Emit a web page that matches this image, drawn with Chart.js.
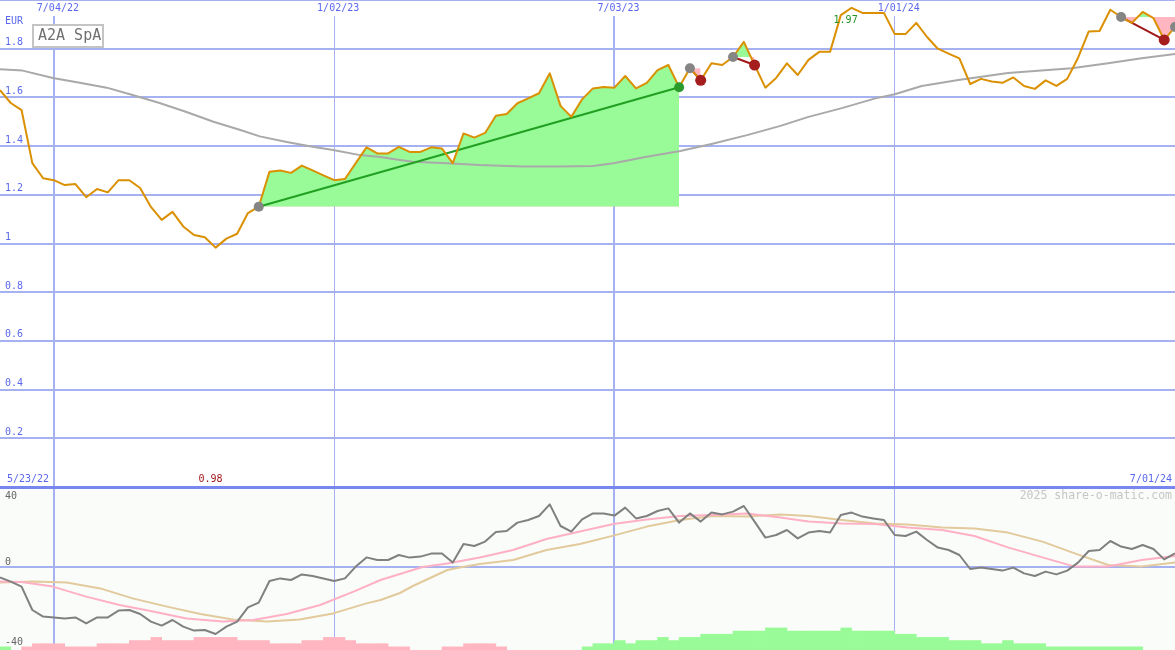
<!DOCTYPE html>
<html>
  <head>
    <meta charset="utf-8">
    <script src="https://cdn.jsdelivr.net/npm/chart.js"></script>
    <style>
      body { margin: 0; background: #fff; }
      #wrap { position: relative; width: 1175px; height: 650px; overflow: hidden; }
      canvas { position: absolute; left: 0; }
      #priceChart { top: 0; background: #fff; }
      #oscChart { top: 489px; background: #f9fcf9; }
    </style>
    <script>
      // weekly closes, week 0 = first visible week
      var title = 'A2A SpA'
      var currency = 'EUR'
      var credit = '2025 share-o-matic.com'
      var firstDate = '5/23/22'
      var lastDate = '7/01/24'
      var tickWeeks = [5, 31, 57, 83]
      var tickLabels = ['7/04/22', '1/02/23', '7/03/23', '1/01/24']
      var tickMajor = [true, false, true, false]
      var priceTicks = [0, 0.2, 0.4, 0.6, 0.8, 1, 1.2, 1.4, 1.6, 1.8, 2]
      var oscTicks = [40, 0, -40]

      var price = [
        1.63, 1.577, 1.548, 1.33, 1.268, 1.26, 1.24, 1.244, 1.19, 1.224,
        1.21, 1.26, 1.26, 1.228, 1.15, 1.097, 1.13, 1.07, 1.035, 1.026,
        0.983, 1.02, 1.04, 1.125, 1.151, 1.295, 1.3, 1.29, 1.32, 1.3,
        1.28, 1.26, 1.265, 1.33, 1.395, 1.37, 1.37, 1.397, 1.376, 1.376,
        1.395, 1.39, 1.33, 1.452, 1.435, 1.454, 1.525, 1.532, 1.576, 1.596,
        1.617, 1.699, 1.565, 1.52, 1.592, 1.637, 1.643, 1.64, 1.688, 1.637,
        1.66, 1.712, 1.733, 1.642, 1.72, 1.67, 1.74, 1.733, 1.766, 1.828,
        1.733, 1.64, 1.68, 1.74, 1.692, 1.754, 1.787, 1.787, 1.938, 1.968,
        1.947, 1.947, 1.947, 1.86, 1.86, 1.906, 1.848, 1.8, 1.78, 1.76,
        1.655, 1.676, 1.665, 1.66, 1.682, 1.647, 1.635, 1.67, 1.647, 1.676,
        1.762, 1.871, 1.873, 1.96, 1.93, 1.906, 1.951, 1.926, 1.836, 1.889
      ]
      var maWeeks = [0, 2.1, 4.9, 7.4, 9.9, 12.3, 14.8, 17.3, 19.8, 22.3, 24.1, 26.6, 29, 30.9, 33.4, 35.3, 37.1, 38.3, 41.5, 44.5,
        48.5, 51.7, 55, 56.9, 60, 63.1, 66.1, 69.3, 72.4, 75, 78.1, 81.2, 83, 85.5, 88.9, 93.5, 99.4, 102.8, 105.9, 109]
      var maValues = [1.716, 1.71, 1.68, 1.66, 1.64, 1.61, 1.577, 1.54, 1.5, 1.466, 1.44, 1.417, 1.397, 1.384, 1.363, 1.355, 1.343, 1.336, 1.33, 1.322,
        1.316, 1.316, 1.318, 1.33, 1.356, 1.38, 1.41, 1.445, 1.483, 1.52, 1.556, 1.596, 1.613, 1.647, 1.671, 1.7, 1.72, 1.74, 1.761, 1.778]

      // trade signals
      var buyWeeks = [24, 64, 68, 104, 109]
      var sellWeeks = [63, 65, 70, 108]
      var fillEnd = [63, 65, 70, 109]

      // lower panel
      var osc = [
        -5.2, -7.3, -9.8, -21.5, -24.8, -25.3, -25.7, -25.2, -28.2, -25.2,
        -25.2, -21.8, -21.5, -23.5, -27.3, -29.3, -26.5, -29.8, -31.8, -31.5,
        -33.5, -29.8, -27.3, -20.2, -17.8, -7, -5.7, -6.5, -3.7, -4.5,
        -5.7, -7, -5.7, 0.2, 4.8, 3.5, 3.5, 6, 4.7, 5.2,
        6.7, 6.7, 2.2, 11.5, 10.5, 12.7, 17.5, 18, 22.2, 23.5,
        25.5, 31.3, 20.5, 17.7, 23.8, 26.8, 26.8, 25.7, 29.7, 24.3,
        25.5, 28, 29.3, 22.2, 26.8, 22.7, 27.2, 26.3, 27.7, 30.5,
        22.7, 14.7, 16, 18.5, 14.3, 17.2, 18, 17.2, 26, 27.2,
        25.2, 24.3, 23.5, 16, 15.5, 17.7, 13.5, 9.7, 8.5, 6,
        -1, -0.2, -1, -1.8, -0.3, -3.2, -4.5, -2.3, -3.7, -1.8,
        2.2, 8, 8.5, 13, 10.2, 9, 11, 9, 3.8, 6.8
      ]
      var pinkWeeks = [0, 2, 4.9, 8, 11.1, 14.2, 17.3, 20.7, 23.5, 26.6, 29.7, 32.8, 35.3, 37.1, 38.3, 39.2, 41.5, 44.5, 47.6, 50.7,
        53.8, 56.9, 60, 63.1, 66.1, 69.3, 72.4, 75, 78.1, 81.2, 84.2, 87.4, 90.4, 93.5, 96.7, 99.7, 102.8, 105.9, 109]
      var pinkValues = [-7.3, -7.5, -9.8, -14.8, -19, -22.3, -25.7, -27.3, -26.5, -23.5, -19, -12.3, -6.5, -3.5, -1.5, 0, 1.8, 4.8, 8.5, 14,
        17.7, 21.5, 23.8, 25.5, 26, 26.8, 24.7, 22.7, 21.8, 21.5, 19.8, 18.5, 15.5, 9.8, 4.8, 0.2, 0.2, 3.5, 5.5]
      var tanWeeks = [0, 3.1, 6.2, 9.3, 12.3, 15.5, 18.6, 21.6, 24.8, 27.8, 30.9, 34, 35.3, 37.1, 38.3, 41.5, 42.9, 44.5, 47.6, 50.7,
        53.8, 56.9, 60, 63.1, 66.1, 69.3, 72.4, 75, 78.1, 81.2, 84.2, 87.4, 90.4, 93.5, 96.7, 99.7, 102.8, 105.9, 109]
      var tanValues = [-7.7, -7.3, -7.7, -10.7, -15.7, -19.8, -23.5, -26.2, -27.3, -26.2, -23.2, -18.2, -16.5, -13, -9.5, -1.5, 0, 1.5, 3.5, 8.5,
        11.5, 15.7, 20.2, 23.5, 25.5, 25.2, 26.3, 25.5, 23.5, 21.8, 21.3, 19.8, 19.3, 17.2, 12.7, 6.8, 1, 0.2, 2.3]
      var negBars = [
        0, 0, 1, 2, 2, 2, 1, 1, 1, 2, 2, 2, 3, 3, 4, 3, 3, 3, 4, 4,
        4, 4, 3, 3, 3, 2, 2, 2, 3, 3, 4, 4, 3, 2, 2, 2, 1, 1, 0, 0,
        0, 1, 1, 2, 2, 2, 1, 0, 0, 0, 0, 0, 0, 0, 0, 0, 0, 0, 0, 0,
        0, 0, 0, 0, 0, 0, 0, 0, 0, 0, 0, 0, 0, 0, 0, 0, 0, 0, 0, 0,
        0, 0, 0, 0, 0, 0, 0, 0, 0, 0, 0, 0, 0, 0, 0, 0, 0, 0, 0, 0,
        0, 0, 0, 0, 0, 0, 0, 0, 0, 0
      ]
      var posBars = [
        1, 0, 0, 0, 0, 0, 0, 0, 0, 0, 0, 0, 0, 0, 0, 0, 0, 0, 0, 0,
        0, 0, 0, 0, 0, 0, 0, 0, 0, 0, 0, 0, 0, 0, 0, 0, 0, 0, 0, 0,
        0, 0, 0, 0, 0, 0, 0, 0, 0, 0, 0, 0, 0, 0, 1, 2, 2, 3, 2, 3,
        3, 4, 3, 4, 4, 5, 5, 5, 6, 6, 6, 7, 7, 6, 6, 6, 6, 6, 7, 6,
        6, 6, 6, 5, 5, 4, 4, 4, 3, 3, 3, 2, 2, 3, 2, 2, 2, 1, 1, 1,
        1, 1, 1, 1, 1, 1, 0, 0, 0, 0
      ]

      var blue = '#5a68ee'
      var gridBlue = '#a6b1f1'
      var darkBlue = '#7886ef'
      var monoFont = '"DejaVu Sans Mono", "Liberation Mono", monospace'
      var labelFont = '10px ' + monoFont
      var green = '#98fb98'
      var pink = '#ffb6c1'
      var priceChart, oscChart

      function pts(xs, ys) {
        return xs.map(function (x, i) { return { x: x, y: ys[i] } })
      }
      function weekPts(ys) {
        return ys.map(function (y, i) { return { x: i, y: y } })
      }
      function xAxis() {
        return {
          type: 'linear', min: 0, max: 109, offset: false,
          afterBuildTicks: function (s) { s.ticks = tickWeeks.map(function (v) { return { value: v } }) },
          afterFit: function (s) { s.height = 0 },
          ticks: { display: false },
          grid: {
            color: gridBlue, drawTicks: false, offset: false,
            lineWidth: function (c) { return tickMajor[tickWeeks.indexOf(c.tick.value)] ? 2 : 1 },
          },
          border: { display: false },
        }
      }

      var priceText = {
        id: 'priceText',
        beforeDatasetsDraw: function (chart) {
          var ctx = chart.ctx, x = chart.scales.x
          ctx.save()
          ctx.font = labelFont
          ctx.textBaseline = 'middle'
          ctx.textAlign = 'center'
          tickWeeks.forEach(function (w, i) {
            var px = x.getPixelForValue(w)
            ctx.fillStyle = '#ffffff'
            ctx.fillRect(px - 2, 1.5, 4, 14.5)
            ctx.fillStyle = blue
            ctx.fillText(tickLabels[i], px + 4, 8)
          })
          ctx.restore()
        },
        afterDraw: function (chart) {
          var ctx = chart.ctx, x = chart.scales.x, y = chart.scales.y
          var hi = price.indexOf(Math.max.apply(null, price))
          var lo = price.indexOf(Math.min.apply(null, price))
          var base = y.getPixelForValue(0)
          ctx.save()
          ctx.font = labelFont
          ctx.textBaseline = 'middle'
          ctx.fillStyle = blue
          ctx.textAlign = 'left'
          ctx.fillText(currency, 5, 21)
          ctx.fillText(firstDate, 7, base - 8)
          ctx.textAlign = 'right'
          ctx.fillText(lastDate, chart.chartArea.right - 3, base - 8)
          ctx.textAlign = 'center'
          ctx.fillStyle = '#229022'
          ctx.fillText(price[hi].toFixed(2), x.getPixelForValue(hi) - 6, y.getPixelForValue(price[hi]) + 13)
          ctx.fillStyle = '#a01818'
          ctx.fillText(price[lo].toFixed(2), x.getPixelForValue(lo) - 5, base - 8)
          // name box
          ctx.fillStyle = '#ffffff'
          ctx.fillRect(33, 25, 70, 22)
          ctx.strokeStyle = '#c4c4c4'
          ctx.lineWidth = 2
          ctx.strokeRect(33, 25, 70, 22)
          ctx.fillStyle = '#707070'
          ctx.font = '15px ' + monoFont
          ctx.textAlign = 'left'
          ctx.fillText(title, 38, 36.5)
          ctx.restore()
        },
      }

      var oscText = {
        id: 'oscText',
        afterDraw: function (chart) {
          var ctx = chart.ctx, y = chart.scales.y
          ctx.save()
          ctx.font = labelFont
          ctx.textBaseline = 'middle'
          ctx.textAlign = 'left'
          ctx.fillStyle = '#666666'
          oscTicks.forEach(function (v) {
            ctx.fillText(String(v), 5, Math.max(y.getPixelForValue(v) - 5, 7))
          })
          ctx.textAlign = 'right'
          ctx.fillStyle = '#c6c6c6'
          ctx.font = '11.5px ' + monoFont
          ctx.fillText(credit, chart.chartArea.right - 3, 7)
          ctx.restore()
        },
      }

      function init() {
        Chart.defaults.font.family = monoFont
        var sets = []
        // buy / sell dots
        var dots = [], dotCols = [], dotR = []
        buyWeeks.forEach(function (w) {
          dots.push({ x: w, y: price[w] }); dotCols.push('#858585'); dotR.push(5)
        })
        sellWeeks.forEach(function (w, i) {
          var win = price[w] > price[buyWeeks[i]]
          dots.push({ x: w, y: price[w] }); dotCols.push(win ? '#2a9a2a' : '#a51d1d'); dotR.push(win ? 5 : 5.5)
        })
        sets.push({ data: dots, showLine: false, pointRadius: dotR, pointBackgroundColor: dotCols, pointBorderWidth: 0, order: 0 })
        sets.push({ data: weekPts(price), borderColor: '#da9000', borderWidth: 2, order: 1 })
        sellWeeks.forEach(function (w, i) {
          var b = buyWeeks[i]
          var win = price[w] > price[b]
          sets.push({
            data: [{ x: b, y: price[b] }, { x: w, y: price[w] }],
            borderColor: win ? '#22a022' : '#a01818', borderWidth: 2, order: 2,
          })
        })
        sets.push({ data: pts(maWeeks, maValues), borderColor: '#a9a9a9', borderWidth: 2, order: 3 })
        fillEnd.forEach(function (e, i) {
          var b = buyWeeks[i]
          var seg = []
          for (var k = b; k <= e; k++) seg.push({ x: k, y: price[k] })
          sets.push({
            data: seg, borderWidth: 0, borderColor: 'rgba(0,0,0,0)', order: 4,
            fill: { target: { value: price[b] }, above: green, below: pink },
          })
        })

        priceChart = new Chart(document.getElementById('priceChart'), {
          type: 'line',
          data: { datasets: sets },
          options: {
            responsive: false, animation: false, events: [],
            devicePixelRatio: 1,
            layout: { padding: 0, autoPadding: false },
            elements: { point: { radius: 0 }, line: { tension: 0, borderJoinStyle: 'round' } },
            plugins: { legend: { display: false }, tooltip: { enabled: false } },
            scales: {
              x: xAxis(),
              y: {
                type: 'linear', min: 2 - 489 / 243.5, max: 2,
                afterBuildTicks: function (s) { s.ticks = priceTicks.map(function (v) { return { value: v } }) },
                afterFit: function (s) { s.width = 0; s.paddingTop = 0; s.paddingBottom = 0 },
                ticks: {
                  mirror: true, padding: 5, labelOffset: -6, color: blue, autoSkip: false,
                  font: { family: monoFont, size: 10 },
                  callback: function (v) { return (v <= 0 || v >= 2) ? '' : String(+v.toFixed(1)) },
                },
                grid: {
                  drawTicks: false,
                  color: function (c) { return c.tick.value === 0 ? darkBlue : gridBlue },
                  lineWidth: function (c) { return c.tick.value === 0 ? 3 : 2 },
                },
                border: { display: false },
              },
            },
          },
          plugins: [priceText],
        })

        var barVals = [], barCols = []
        posBars.forEach(function (p, i) {
          var v = p || negBars[i]
          barVals.push({ x: i + 0.5, y: v ? v : null })
          barCols.push(p ? green : pink)
        })

        oscChart = new Chart(document.getElementById('oscChart'), {
          type: 'line',
          data: {
            datasets: [
              { data: weekPts(osc), borderColor: '#808080', borderWidth: 2, order: 0, yAxisID: 'y' },
              { data: pts(pinkWeeks, pinkValues), borderColor: '#ffb0c4', borderWidth: 2, order: 1, yAxisID: 'y' },
              { data: pts(tanWeeks, tanValues), borderColor: '#e2ca9c', borderWidth: 2, order: 2, yAxisID: 'y' },
              {
                type: 'bar', data: barVals, backgroundColor: barCols, borderWidth: 0,
                barPercentage: 1, categoryPercentage: 1, yAxisID: 'yb', order: 3,
              },
            ],
          },
          options: {
            responsive: false, animation: false, events: [],
            devicePixelRatio: 1,
            layout: { padding: 0, autoPadding: false },
            elements: { point: { radius: 0 }, line: { tension: 0, borderJoinStyle: 'round' } },
            plugins: { legend: { display: false }, tooltip: { enabled: false } },
            scales: {
              x: xAxis(),
              y: {
                type: 'linear', min: -41.5, max: 39,
                afterBuildTicks: function (s) { s.ticks = [{ value: 0 }] },
                afterFit: function (s) { s.width = 0 },
                ticks: { display: false },
                grid: { drawTicks: false, color: gridBlue, lineWidth: 2 },
                border: { display: false },
              },
              yb: { type: 'linear', min: 0, max: 161 / 3.15, display: false },
            },
          },
          plugins: [oscText],
        })
      }
    </script>
  </head>
  <body onload="init()">
    <div id="wrap">
      <canvas id="priceChart" width="1175" height="489"></canvas>
      <canvas id="oscChart" width="1175" height="161"></canvas>
    </div>
  </body>
</html>
